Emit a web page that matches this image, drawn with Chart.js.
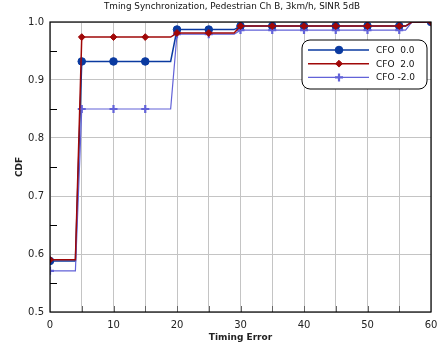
<!DOCTYPE html>
<html>
<head>
<meta charset="utf-8">
<script src="https://cdn.jsdelivr.net/npm/chart.js@4.4.1/dist/chart.umd.min.js"></script>
<style>
  html, body { margin: 0; padding: 0; background: #fff; }
  #cdfChart { display: block; }
</style>
</head>
<body>
<canvas id="cdfChart" width="438" height="349"></canvas>
<script>
// Timing error (x) and CDF values
const timingError = [0, 4, 5, 10, 15, 19, 20, 25, 29, 30, 35, 40, 45, 50, 55, 56, 57, 60];
const cdfCfo0  = [0.588, 0.588, 0.932, 0.932, 0.932, 0.932, 0.987, 0.987, 0.987, 0.993, 0.993, 0.993, 0.993, 0.993, 0.993, 0.993, 1.0, 1.0];
const cdfCfo2  = [0.590, 0.590, 0.974, 0.974, 0.974, 0.974, 0.981, 0.981, 0.981, 0.993, 0.993, 0.993, 0.993, 0.993, 0.993, 0.993, 1.0, 1.0];
const cdfCfoM2 = [0.571, 0.571, 0.850, 0.850, 0.850, 0.850, 0.979, 0.979, 0.979, 0.986, 0.986, 0.986, 0.986, 0.986, 0.986, 0.986, 1.0, 1.0];
const seriesLabels = ['CFO  0.0', 'CFO  2.0', 'CFO -2.0'];
const xTicks = [0, 10, 20, 30, 40, 50, 60];
const yTicks = [0.5, 0.6, 0.7, 0.8, 0.9, 1.0];
const chartTitle = 'Tming Synchronization, Pedestrian Ch B, 3km/h, SINR 5dB';

const toPoints = ys => timingError.map((x, i) => ({ x: x, y: ys[i] }));
// markers only every 5 units of timing error
const markerRadius = r => ctx => (ctx.raw && ctx.raw.x % 5 === 0) ? r : 0;

// draws the title, inner tick marks, plot frame and the boxed legend
const decorations = {
  id: 'decorations',
  afterDatasetsDraw(chart) {
    const c = chart.ctx;
    const a = chart.chartArea;
    const xs = chart.scales.x, ys = chart.scales.y;
    c.save();
    // inner ticks on x axis
    c.strokeStyle = '#666';
    c.lineWidth = 1;
    for (let v = 5; v < 60; v += 5) {
      const px = Math.round(xs.getPixelForValue(v)) + 0.5;
      c.beginPath(); c.moveTo(px, a.bottom); c.lineTo(px, a.bottom - 6); c.stroke();
    }
    // minor ticks on y axis
    c.strokeStyle = '#000';
    for (let v = 0.55; v < 1.0; v += 0.1) {
      const py = Math.round(ys.getPixelForValue(v)) + 0.5;
      c.beginPath(); c.moveTo(a.left, py); c.lineTo(a.left + 7, py); c.stroke();
    }
    // frame
    c.lineWidth = 1.2;
    c.strokeRect(a.left, a.top, a.right - a.left, a.bottom - a.top);

    // legend box
    const bx = 302, by = 40, bw = 125, bh = 49, r = 8;
    c.beginPath();
    c.moveTo(bx + r, by);
    c.arcTo(bx + bw, by, bx + bw, by + bh, r);
    c.arcTo(bx + bw, by + bh, bx, by + bh, r);
    c.arcTo(bx, by + bh, bx, by, r);
    c.arcTo(bx, by, bx + bw, by, r);
    c.closePath();
    c.fillStyle = '#fff';
    c.fill();
    c.strokeStyle = '#000';
    c.lineWidth = 1;
    c.stroke();

    chart.data.datasets.forEach((ds, i) => {
      const ly = 50 + i * 13.7;
      c.strokeStyle = ds.borderColor;
      c.fillStyle = ds.borderColor;
      c.lineWidth = ds.borderWidth;
      c.beginPath(); c.moveTo(308, ly); c.lineTo(369, ly); c.stroke();
      c.lineWidth = ds.pointBorderWidth;
      Chart.helpers.drawPoint(c, {
        pointStyle: ds.pointStyle,
        radius: ds.legendRadius,
        rotation: 0,
        borderWidth: ds.pointBorderWidth
      }, 339, ly);
      c.fillStyle = '#111';
      c.font = '9px "DejaVu Sans"';
      c.textAlign = 'left';
      c.textBaseline = 'middle';
      c.fillText(ds.label, 376, ly + 0.5);
    });

    // title
    c.fillStyle = '#111';
    c.font = '8.8px "DejaVu Sans"';
    c.textAlign = 'center';
    c.textBaseline = 'middle';
    c.fillText(chartTitle, 232, 7);
    c.restore();
  }
};

function makeSet(i, data, color, style, r, bw) {
  return {
    label: seriesLabels[i],
    data: toPoints(data),
    borderColor: color,
    backgroundColor: color,
    pointBackgroundColor: color,
    pointBorderColor: color,
    borderWidth: 1.5,
    pointStyle: style,
    pointRadius: markerRadius(r),
    pointHoverRadius: markerRadius(r),
    pointBorderWidth: bw,
    legendRadius: r,
    tension: 0,
    fill: false
  };
}

const ds0 = makeSet(0, cdfCfo0, '#0a3aa0', 'circle', 3.8, 1);
const ds2 = makeSet(1, cdfCfo2, '#a00808', 'rectRot', 3.4, 1);
const dsM2 = makeSet(2, cdfCfoM2, '#6262d8', 'cross', 4, 2.2);
dsM2.borderWidth = 1.2;
ds0.order = 3; dsM2.order = 2; ds2.order = 1;

new Chart(document.getElementById('cdfChart').getContext('2d'), {
  type: 'line',
  data: { datasets: [ds0, ds2, dsM2] },
  options: {
    responsive: false,
    animation: false,
    layout: { padding: { top: 22, right: 0, left: 0, bottom: 0 } },
    plugins: {
      legend: { display: false },
      title: { display: false },
      tooltip: { enabled: false }
    },
    scales: {
      x: {
        type: 'linear',
        min: 0, max: 60,
        afterFit: s => { s.height = 37; s.paddingRight = 7; },
        afterBuildTicks: s => { s.ticks = Array.from({ length: 13 }, (_, k) => ({ value: k * 5 })); },
        grid: { color: '#c4c4c4', drawTicks: false },
        border: { display: false },
        ticks: {
          padding: 7,
          color: '#222',
          font: { family: 'DejaVu Sans', size: 10 },
          maxRotation: 0,
          autoSkip: false,
          callback: v => xTicks.includes(v) ? String(v) : ''
        },
        title: {
          display: true, text: 'Timing Error', color: '#222',
          font: { family: 'DejaVu Sans', size: 9, weight: 'bold' },
          padding: { top: 0, bottom: 6 }
        }
      },
      y: {
        min: 0.5, max: 1.0,
        afterFit: s => { s.width = 50; },
        afterBuildTicks: s => { s.ticks = yTicks.map(v => ({ value: v })); },
        grid: { color: '#c4c4c4', drawTicks: false },
        border: { display: false },
        ticks: {
          padding: 6,
          color: '#222',
          font: { family: 'DejaVu Sans', size: 10 },
          callback: v => v.toFixed(1)
        },
        title: {
          display: true, text: 'CDF', color: '#222',
          font: { family: 'DejaVu Sans', size: 9, weight: 'bold' },
          padding: { top: 14, bottom: 0 }
        }
      }
    }
  },
  plugins: [decorations]
});
</script>
</body>
</html>
